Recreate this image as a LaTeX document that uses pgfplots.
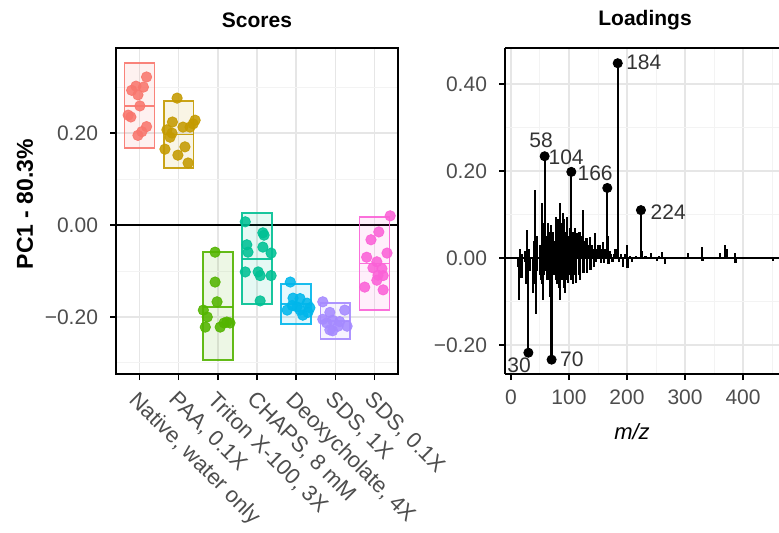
\documentclass[border=0pt]{standalone}
\usepackage{fontspec}
\setmainfont{Liberation Sans}
\usepackage{pgfplots}
\pgfplotsset{compat=1.18}
\definecolor{c1}{HTML}{F8766D}
\definecolor{c2}{HTML}{C49A00}
\definecolor{c3}{HTML}{53B400}
\definecolor{c4}{HTML}{00C094}
\definecolor{c5}{HTML}{00B6EB}
\definecolor{c6}{HTML}{A58AFF}
\definecolor{c7}{HTML}{FB61D7}
\definecolor{gridmaj}{HTML}{E6E6E6}
\definecolor{gridmin}{HTML}{F3F3F3}
\definecolor{ticktext}{HTML}{4D4D4D}
\pgfplotsset{
  ggp/.style={scale only axis, anchor=south west,
    /pgf/number format/assume math mode=true,
    axis line style={black, line width=0.9pt},
    tick style={black, line width=0.7pt},
    tick align=outside, major tick length=3pt, minor tick length=0pt,
    ticklabel style={font=\fontsize{10.5}{12}\selectfont, text=ticktext},
    yticklabel style={xshift=-2.5pt},
    grid=both, major grid style={gridmaj, line width=0.7pt},
    minor grid style={gridmin, line width=0.5pt},
    xtick pos=left, ytick pos=left, clip=true},
  box/.style={#1, line width=0.8pt, fill=#1, fill opacity=0.1, draw opacity=0.9},
  mid/.style={#1, line width=0.8pt, draw opacity=0.9},
  pts/.style={only marks, mark=*, mark size=2.6pt, mark options={draw=#1, fill=#1}, opacity=0.88},
}
\begin{document}
\begin{tikzpicture}
\path[use as bounding box] (0,0) rectangle (389.5pt,266pt);
% ---------------- Scores ----------------
\begin{axis}[ggp, at={(58pt,79pt)}, width=141pt, height=163pt,
  xmin=0.4, xmax=7.6, ymin=-0.324, ymax=0.385,
  xtick={1,2,3,4,5,6,7},
  xticklabels={{Native, water only},{PAA, 0.1X},{Triton X-100, 3X},{CHAPS, 8 mM},{Deoxycholate, 4X},{SDS, 1X},{SDS, 0.1X}},
  xticklabel style={rotate=-45, anchor=north west, font=\fontsize{11}{13}\selectfont, text=ticktext},
  ytick={-0.2,0,0.2}, yticklabels={−0.20,0.00,0.20},
  minor ytick={-0.3,-0.1,0.1,0.3}]
\addplot[black, line width=0.8pt] coordinates {(0.4,0) (7.6,0)};
% boxes
\addplot[box=c1] coordinates {(0.62,0.167) (1.38,0.167) (1.38,0.352) (0.62,0.352)} -- cycle;
\addplot[box=c2] coordinates {(1.62,0.124) (2.38,0.124) (2.38,0.270) (1.62,0.270)} -- cycle;
\addplot[box=c3] coordinates {(2.62,-0.293) (3.38,-0.293) (3.38,-0.059) (2.62,-0.059)} -- cycle;
\addplot[box=c4] coordinates {(3.62,-0.172) (4.38,-0.172) (4.38,0.026) (3.62,0.026)} -- cycle;
\addplot[box=c5] coordinates {(4.62,-0.215) (5.38,-0.215) (5.38,-0.128) (4.62,-0.128)} -- cycle;
\addplot[box=c6] coordinates {(5.62,-0.248) (6.38,-0.248) (6.38,-0.170) (5.62,-0.170)} -- cycle;
\addplot[box=c7] coordinates {(6.62,-0.185) (7.38,-0.185) (7.38,0.017) (6.62,0.017)} -- cycle;
\addplot[mid=c1] coordinates {(0.62,0.259) (1.38,0.259)};
\addplot[mid=c2] coordinates {(1.62,0.197) (2.38,0.197)};
\addplot[mid=c3] coordinates {(2.62,-0.178) (3.38,-0.178)};
\addplot[mid=c4] coordinates {(3.62,-0.074) (4.38,-0.074)};
\addplot[mid=c5] coordinates {(4.62,-0.172) (5.38,-0.172)};
\addplot[mid=c6] coordinates {(5.62,-0.209) (6.38,-0.209)};
\addplot[mid=c7] coordinates {(6.62,-0.084) (7.38,-0.084)};
% points
\addplot[pts=c1] coordinates {(1.18,0.322) (0.91,0.302) (0.80,0.293) (0.96,0.283) (1.10,0.300) (1.01,0.259) (0.71,0.239) (0.78,0.235) (1.18,0.214) (1.06,0.203) (0.96,0.195)};
\addplot[pts=c2] coordinates {(1.96,0.276) (1.84,0.224) (2.42,0.228) (2.29,0.213) (1.70,0.207) (2.11,0.213) (1.78,0.191) (2.16,0.170) (1.65,0.165) (1.98,0.152) (2.24,0.135) (2.37,0.220) (1.83,0.200)};
\addplot[pts=c3] coordinates {(2.93,-0.059) (2.93,-0.124) (2.98,-0.167) (2.63,-0.185) (2.73,-0.200) (2.68,-0.222) (3.06,-0.222) (3.23,-0.211) (3.31,-0.213) (3.16,-0.213)};
\addplot[pts=c4] coordinates {(3.70,0.007) (4.15,-0.017) (4.18,-0.022) (4.15,-0.048) (3.74,-0.043) (3.77,-0.059) (4.36,-0.061) (3.70,-0.102) (4.03,-0.102) (4.08,-0.110) (4.36,-0.110) (4.08,-0.165)};
\addplot[pts=c5] coordinates {(4.85,-0.124) (4.92,-0.159) (5.10,-0.160) (5.28,-0.170) (4.77,-0.185) (5.10,-0.185) (5.35,-0.180) (4.90,-0.175) (5.17,-0.196) (5.02,-0.178) (5.30,-0.190)};
\addplot[pts=c6] coordinates {(5.68,-0.167) (6.24,-0.185) (5.86,-0.190) (5.93,-0.207) (6.11,-0.210) (5.78,-0.213) (6.30,-0.220) (5.86,-0.228) (5.93,-0.230) (6.07,-0.220) (5.68,-0.205)};
\addplot[pts=c7] coordinates {(7.40,0.020) (7.11,-0.015) (6.91,-0.032) (6.80,-0.070) (7.32,-0.061) (7.06,-0.080) (6.96,-0.093) (7.19,-0.095) (7.09,-0.109) (7.22,-0.110) (6.75,-0.135) (7.22,-0.141) (7.06,-0.120)};
\end{axis}
% ---------------- Loadings ----------------
\begin{axis}[ggp, at={(252.5pt,79pt)}, width=137pt, height=163pt,
  xmin=-10.3, xmax=462, ymin=-0.267, ymax=0.483,
  axis x line*=box, axis y line*=left,
  x axis line style={-}, y axis line style={-},
  xtick={0,100,200,300,400}, minor xtick={50,150,250,350,450},
  xticklabel style={yshift=-1.5pt},
  ytick={-0.2,0,0.2,0.4}, yticklabels={−0.20,0.00,0.20,0.40},
  minor ytick={-0.1,0.1,0.3}]
\addplot[ycomb, black, line width=1.1pt] table {
x y
12 0.0
13 -0.02
14 -0.097
15 0.02
16 -0.03
17 -0.01
18 -0.046
19 0.01
24 -0.01
25 0.015
26 -0.06
27 0.03
28 0.064
29 -0.08
30 -0.218
31 0.02
32 -0.03
38 -0.08
39 0.04
40 -0.05
41 0.156
42 -0.06
43 -0.129
44 0.05
45 -0.03
50 -0.04
51 0.03
52 -0.05
53 0.126
54 -0.06
55 -0.097
56 0.08
57 -0.04
58 0.234
59 -0.03
60 0.05
62 -0.05
64 0.08
65 -0.05
66 0.05
67 -0.09
68 0.06
69 0.075
70 -0.234
71 0.05
72 0.06
74 -0.04
76 0.04
77 -0.05
78 0.094
79 -0.06
80 0.07
81 -0.04
82 0.09
83 -0.07
84 0.126
85 -0.097
86 0.08
88 -0.05
90 0.103
91 -0.07
92 0.09
93 -0.08
94 0.06
95 -0.05
96 0.08
97 0.094
98 -0.058
99 0.05
100 -0.04
102 0.07
103 -0.05
104 0.198
105 -0.04
106 0.06
107 -0.06
108 0.05
110 0.07
111 -0.04
112 -0.058
113 0.057
114 0.04
116 0.05
117 -0.04
118 0.06
119 -0.05
120 0.04
122 0.05
124 0.11
125 -0.035
126 0.04
128 0.03
130 0.045
131 -0.035
132 0.02
134 0.03
136 0.048
137 -0.028
138 0.02
140 0.03
142 0.02
143 -0.02
145 0.057
146 -0.01
148 0.02
150 0.03
152 0.02
153 0.03
155 -0.012
156 0.02
158 0.015
159 0.037
160 -0.012
162 0.02
164 0.015
166 0.161
167 0.05
168 -0.015
170 0.015
172 0.01
175 -0.01
178 0.01
180 0.02
182 0.01
184 0.448
185 0.1
186 -0.01
190 0.01
193 -0.02
196 0.01
200 0.03
201 -0.023
205 0.005
209 -0.01
215 0.005
224 0.110
225 0.015
232 0.005
242 0.012
251 -0.008
255 0.005
260 0.014
265 -0.015
286 0.003
305 0.011
329 0.025
330 -0.008
360 0.011
369 0.03
372 0.02
386 0.011
387 -0.012
452 -0.008
};
\addplot[black, line width=0.8pt] coordinates {(-10.3,0) (462,0)};
\addplot[only marks, mark=*, mark size=2.3pt, black] coordinates {(30,-0.218) (58,0.234) (70,-0.234) (104,0.198) (166,0.161) (184,0.448) (224,0.110)};
\node[font=\fontsize{10.5}{12}\selectfont, text=black!80] at (axis cs:52,0.271) {58};
\node[font=\fontsize{10.5}{12}\selectfont, text=black!80] at (axis cs:95,0.232) {104};
\node[font=\fontsize{10.5}{12}\selectfont, text=black!80] at (axis cs:145,0.195) {166};
\node[font=\fontsize{10.5}{12}\selectfont, text=black!80] at (axis cs:229,0.450) {184};
\node[font=\fontsize{10.5}{12}\selectfont, text=black!80] at (axis cs:271,0.106) {224};
\node[font=\fontsize{10.5}{12}\selectfont, text=black!80] at (axis cs:14,-0.246) {30};
\node[font=\fontsize{10.5}{12}\selectfont, text=black!80] at (axis cs:105,-0.234) {70};
\end{axis}
% titles and axis titles
\node[font=\bfseries\fontsize{10.5}{12}\selectfont] at (128.5pt,256pt) {Scores};
\node[font=\bfseries\fontsize{10.5}{12}\selectfont] at (322.5pt,256pt) {Loadings};
\node[font=\bfseries\fontsize{11.5}{13}\selectfont, rotate=90] at (12.5pt,164pt) {PC1 - 80.3\%};
\node[font=\itshape\fontsize{11}{13}\selectfont] at (316pt,50pt) {m/z};
\end{tikzpicture}
\end{document}
